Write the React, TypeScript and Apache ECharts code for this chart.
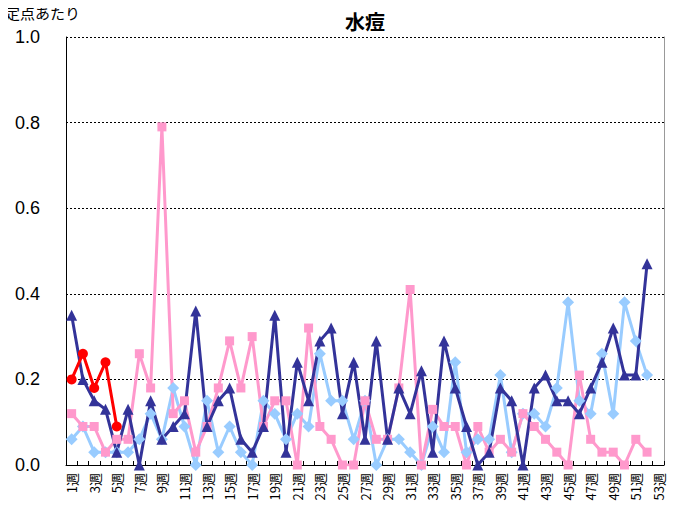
import React, { useEffect, useRef } from "react";
import * as echarts from "echarts";

const weeks: string[] = Array.from({ length: 53 }, (_, i) => `${i + 1}週`);

const yTicks = [0, 0.2, 0.4, 0.6, 0.8, 1.0];

const seriesA: (number | null)[] = [
  0.06, 0.09, 0.03, 0.03, 0.03, 0.03, 0.06, 0.12, 0.06, 0.18,
  0.09, 0.0, 0.15, 0.03, 0.09, 0.03, 0.0, 0.15, 0.12, 0.06,
  0.12, 0.09, 0.26, 0.15, 0.15, 0.06, 0.15, 0.0, 0.06, 0.06,
  0.03, 0.0, 0.09, 0.03, 0.24, 0.03, 0.06, 0.06, 0.21, 0.03,
  0.12, 0.12, 0.09, 0.18, 0.38, 0.15, 0.12, 0.26, 0.12, 0.38,
  0.29, 0.21,
];

const seriesB: (number | null)[] = [
  0.12, 0.09, 0.09, 0.03, 0.06, 0.06, 0.26, 0.18, 0.79, 0.12,
  0.15, 0.03, 0.09, 0.18, 0.29, 0.18, 0.30, 0.09, 0.15, 0.15,
  0.0, 0.32, 0.09, 0.06, 0.0, 0.0, 0.15, 0.06, 0.06, 0.18,
  0.41, 0.0, 0.13, 0.09, 0.09, 0.0, 0.09, 0.03, 0.06, 0.03,
  0.12, 0.09, 0.06, 0.03, 0.0, 0.21, 0.06, 0.03, 0.03, 0.0,
  0.06, 0.03,
];

const seriesC: (number | null)[] = [
  0.35, 0.20, 0.15, 0.13, 0.03, 0.13, 0.0, 0.15, 0.06, 0.09,
  0.12, 0.36, 0.09, 0.15, 0.18, 0.06, 0.03, 0.09, 0.35, 0.03,
  0.24, 0.15, 0.29, 0.32, 0.12, 0.24, 0.06, 0.29, 0.06, 0.18,
  0.12, 0.22, 0.03, 0.29, 0.18, 0.09, 0.0, 0.03, 0.18, 0.15,
  0.0, 0.18, 0.21, 0.15, 0.15, 0.12, 0.18, 0.24, 0.32, 0.21,
  0.21, 0.47,
];

const seriesD: (number | null)[] = [0.20, 0.26, 0.18, 0.24, 0.09];

export default function App() {
  const ref = useRef<HTMLDivElement>(null);
  useEffect(() => {
    if (!ref.current) return;
    const chart = echarts.init(ref.current, undefined, { renderer: "svg" });
    const mk = (
      name: string,
      data: (number | null)[],
      color: string,
      symbol: string,
      size: number
    ) => ({
      name,
      type: "line",
      data,
      symbol,
      symbolSize: size,
      showAllSymbol: true,
      lineStyle: { color, width: 3 },
      itemStyle: { color },
      connectNulls: false,
    });
    chart.setOption({
      animation: false,
      backgroundColor: "#ffffff",
      title: {
        text: "水痘",
        left: 360,
        textAlign: "center",
        top: 6,
        textStyle: {
          fontFamily: "Noto Sans CJK JP",
          fontSize: 20,
          fontWeight: "bold",
          color: "#000",
        },
      },
      graphic: [
        {
          type: "text",
          left: 5,
          top: 5,
          style: {
            text: "定点あたり",
            fontFamily: "Noto Sans CJK JP",
            fontSize: 15,
            fill: "#000",
          },
        },
      ],
      grid: { left: 66, right: 11, top: 37, bottom: 47 },
      xAxis: {
        type: "category",
        data: weeks,
        boundaryGap: true,
        axisLine: { show: true, lineStyle: { color: "#000", width: 1 } },
        axisTick: {
          show: true,
          inside: true,
          length: 4,
          interval: 0,
          lineStyle: { color: "#000" },
        },
        axisLabel: {
          interval: 1,
          rotate: 90,
          fontSize: 13,
          fontFamily: "Noto Sans CJK JP",
          color: "#000",
          margin: 8,
        },
        splitLine: { show: false },
      },
      yAxis: [
        {
          type: "value",
          min: 0,
          max: 1,
          interval: 0.2,
          axisLine: { show: true, lineStyle: { color: "#000", width: 1 } },
          axisTick: { show: false },
          axisLabel: {
            fontSize: 18,
            fontFamily: "Liberation Sans",
            color: "#000",
            margin: 26,
            formatter: (v: number) => {
              const t = yTicks.find((x) => Math.abs(x - v) < 1e-6);
              return t !== undefined ? t.toFixed(1) : "";
            },
          },
          splitLine: {
            show: true,
            lineStyle: { color: "#000", type: [2, 2], width: 1 },
          },
        },
        {
          type: "value",
          min: 0,
          max: 1,
          position: "right",
          axisLine: { show: true, lineStyle: { color: "#999", width: 1 } },
          axisTick: { show: false },
          axisLabel: { show: false },
          splitLine: { show: false },
        },
      ],
      series: [
        mk("A", seriesA, "#99ccff", "diamond", 12),
        mk("B", seriesB, "#ff99cc", "rect", 9),
        mk("C", seriesC, "#333399", "triangle", 11),
        mk("D", seriesD, "#ff0000", "circle", 10),
      ],
    });
    return () => chart.dispose();
  }, []);
  return <div ref={ref} style={{ width: 675, height: 512, margin: -8 }} />;
}
